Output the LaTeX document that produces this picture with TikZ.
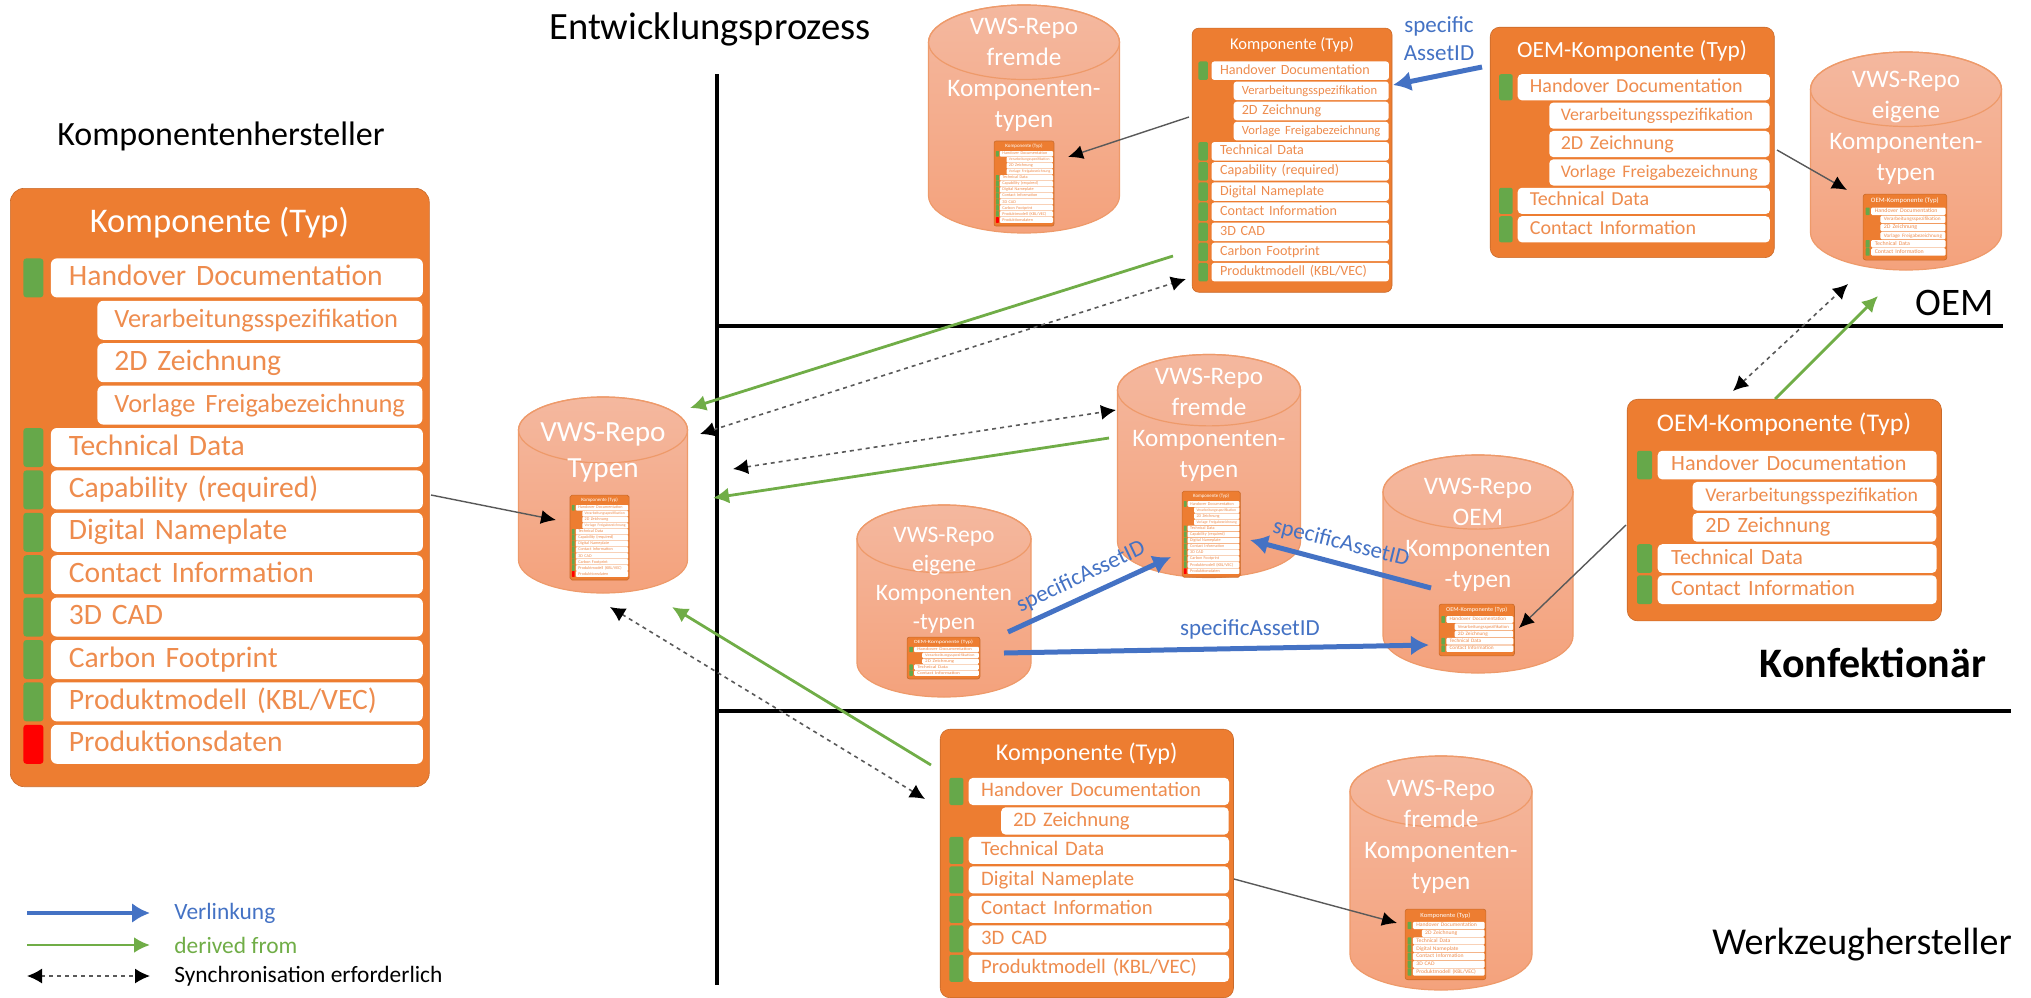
\documentclass[tikz,border=0pt]{standalone}
\usepackage{fontspec}
\setmainfont{Carlito}
\usetikzlibrary{arrows.meta}
\definecolor{comporange}{HTML}{ED7D31}
\definecolor{rowtext}{HTML}{EE8C4E}
\definecolor{repotop}{HTML}{F4B89F}
\definecolor{repobottom}{HTML}{F4A27C}
\definecolor{repoedge}{HTML}{EE9A6A}
\definecolor{bargreen}{HTML}{66A84A}
\definecolor{linkblue}{HTML}{4472C4}
\definecolor{derivegreen}{HTML}{70AD47}
\definecolor{syncgray}{HTML}{595959}
\tikzset{
  compbg/.style={rectangle,fill=comporange,draw=comporange!85!black,line width=.3pt,
    minimum width=209.5pt,anchor=north west,inner sep=0pt},
  comptitle/.style={text=white,font=\fontsize{17.3}{19}\selectfont,inner sep=0pt},
  comprow/.style={rectangle,fill=white,anchor=north west,inner ysep=0pt,minimum height=19.5pt,
    text=rowtext,align=left,text height=9.5pt,text depth=2pt,font=\fontsize{14.8}{16}\selectfont},
  rowmain/.style={comprow,inner xsep=9pt,text width=168pt},
  rowsub/.style={comprow,inner xsep=8.5pt,text width=145.5pt},
  compbar/.style={rectangle,anchor=north west,inner sep=0pt,minimum width=10pt,minimum height=19.5pt},
  bar m/.style={compbar,fill=bargreen},
  bar r/.style={compbar,fill=red},
  repo/.style={draw=repoedge,line width=.6pt,top color=repotop,bottom color=repobottom},
  repolid/.style={draw=repoedge,line width=.6pt},
  repotext/.style={text=white,align=center,inner sep=0pt},
  heading/.style={text=black,inner sep=0pt},
  divider/.style={line width=2pt,black},
  linkarrow/.style={line width=2.5pt,linkblue,-{Latex[length=9pt,width=10pt]}},
  derivearrow/.style={line width=1.4pt,derivegreen,-{Latex[length=8pt,width=8pt]}},
  syncarrow/.style={line width=.8pt,syncgray,dash pattern=on 2pt off 2pt,
    {Latex[black,length=7.5pt,width=7.5pt]}-{Latex[black,length=7.5pt,width=7.5pt]}},
  partarrow/.style={line width=.7pt,syncgray,-{Latex[black,length=7.5pt,width=7pt]}},
  linklabel/.style={text=linkblue,inner sep=0pt,font=\fontsize{11.5}{14}\selectfont,align=center},
  legendtext/.style={anchor=west,inner sep=0pt,font=\fontsize{11.7}{14}\selectfont}
}
\newcommand\subsmall{\fontsize{13.2}{15}\selectfont}
\newcommand\rowsmain{m/Handover Documentation,s/{\subsmall Verarbeitungsspezifikation},s/2D Zeichnung,
  s/{\subsmall Vorlage Freigabezeichnung},m/Technical Data,m/Capability (required),m/Digital Nameplate,
  m/Contact Information,m/3D CAD,m/Carbon Footprint,m/{Produktmodell (KBL/VEC)},r/Produktionsdaten}
\newcommand\rowsmid{m/Handover Documentation,s/{\subsmall Verarbeitungsspezifikation},s/2D Zeichnung,
  s/{\subsmall Vorlage Freigabezeichnung},m/Technical Data,m/Capability (required),m/Digital Nameplate,
  m/Contact Information,m/3D CAD,m/Carbon Footprint,m/{Produktmodell (KBL/VEC)}}
\newcommand\rowsoem{m/Handover Documentation,s/{\subsmall Verarbeitungsspezifikation},s/2D Zeichnung,
  s/{\subsmall Vorlage Freigabezeichnung},m/Technical Data,m/Contact Information}
\newcommand\rowsoemb{m/Handover Documentation,s/{\subsmall Verarbeitungsspezifikation},s/2D Zeichnung,
  m/Technical Data,m/Contact Information}
\newcommand\rowstool{m/Handover Documentation,s/2D Zeichnung,m/Technical Data,m/Digital Nameplate,
  m/Contact Information,m/3D CAD,m/{Produktmodell (KBL/VEC)}}
% name, x, y, xscale, yscale, number of rows, title, rows
\newcommand\compbox[8]{%
  \begin{scope}[shift={(#2,#3)},xscale=#4,yscale=#5,transform shape]
    \pgfmathsetmacro\boxh{(89.6+42.4*#6)*0.5}
    \pgfmathsetmacro\boxr{#4*7}
    \pgfmathsetmacro\rowr{#4*3}
    \pgfmathsetmacro\barr{#4*1.5}
    \node[compbg,rounded corners=\boxr pt,minimum height=\boxh pt] (#1) at (0,0) {};
    \node[comptitle] (#1title) at (209.5,35) {#7};
    \foreach \k/\rowtxt [count=\n] in #8 {
      \if\k s
        \node[rowsub,rounded corners=\rowr pt] (#1row\n) at (87,{70+42.4*(\n-1)}) {\rowtxt};
      \else
        \node[bar \k,rounded corners=\barr pt] (#1bar\n) at (13,{70+42.4*(\n-1)}) {};
        \node[rowmain,rounded corners=\rowr pt] (#1row\n) at (40.5,{70+42.4*(\n-1)}) {\rowtxt};
      \fi
    }
  \end{scope}
}
% name, centre x, centre y, width, height, text y, font size, line pitch, text
\newcommand\repocyl[9]{%
  \pgfmathsetmacro\rx{#4/2}
  \pgfmathsetmacro\ry{#4*0.195}
  \pgfmathsetmacro\xl{#2-\rx}
  \pgfmathsetmacro\yt{#3-#5/2+\ry}
  \pgfmathsetmacro\yb{#3+#5/2-\ry}
  \coordinate (#1) at (#2,#3);
  \shade[repo] (\xl,\yt) arc[start angle=180,end angle=360,x radius=\rx,y radius=\ry]
    -- ({\xl+#4},\yb) arc[start angle=0,end angle=180,x radius=\rx,y radius=\ry] -- cycle;
  \draw[repolid] (#2,\yt) ellipse[x radius=\rx,y radius=\ry];
  \node[repotext,font=\fontsize{#7}{#8}\selectfont] (#1text) at (#2,#6) {#9};
}
\begin{document}
\begin{tikzpicture}[x=0.5pt,y=-0.5pt]
  \useasboundingbox (0,0) rectangle (2031,997);

  \coordinate (vtop) at (717,74);
  \coordinate (vbottom) at (717,985);
  \coordinate (oemleft) at (717,326);
  \coordinate (oemright) at (2003,326);
  \coordinate (konfleft) at (717,711);
  \coordinate (konfright) at (2011,711);
  \draw[divider] (vtop) -- (vbottom);
  \draw[divider] (oemleft) -- (oemright);
  \draw[divider] (konfleft) -- (konfright);

  \node[heading,font=\fontsize{19.3}{24}\selectfont] (prozess) at (710,29) {Entwicklungsprozess};
  \node[heading,font=\fontsize{17}{20}\selectfont] (hersteller) at (221,136) {Komponentenhersteller};
  \node[heading,font=\fontsize{19.5}{22}\selectfont] (oem) at (1955,303) {OEM};
  \node[heading,font=\bfseries\fontsize{21}{24}\selectfont] (konf) at (1873,663) {Konfektionär};
  \node[heading,font=\fontsize{19}{22}\selectfont] (werkzeug) at (1862,945) {Werkzeughersteller};

  \compbox{main}{10}{188}{1}{1}{12}{Komponente (Typ)}{\rowsmain}
  \compbox{mid}{1192}{28}{.477}{.475}{11}{Komponente (Typ)}{\rowsmid}
  \compbox{oemtop}{1490}{27}{.678}{.67}{6}{OEM-Komponente (Typ)}{\rowsoem}
  \compbox{oemmid}{1627}{399}{.75}{.735}{5}{OEM-Komponente (Typ)}{\rowsoemb}
  \compbox{tool}{940}{729}{.70}{.695}{7}{Komponente (Typ)}{\rowstool}

  \repocyl{typen}{603}{495}{169}{196}{452}{14.6}{18}{VWS-Repo\\Typen}
  \compbox{typenmini}{570}{495}{.141}{.142}{12}{Komponente (Typ)}{\rowsmain}
  \repocyl{fremdetop}{1024}{119}{191}{228}{75}{12.6}{15.6}{VWS-Repo\\fremde\\Komponenten-\\typen}
  \compbox{fremdetopmini}{994}{141}{.143}{.142}{12}{Komponente (Typ)}{\rowsmain}
  \repocyl{eigenetop}{1906}{161}{191}{218}{128}{12.6}{15.6}{VWS-Repo\\eigene\\Komponenten-\\typen}
  \compbox{eigenetopmini}{1863}{194}{.2}{.192}{6}{OEM-Komponente (Typ)}{\rowsoem}
  \repocyl{fremdemid}{1209}{466}{183}{223}{425}{12.6}{15.6}{VWS-Repo\\fremde\\Komponenten-\\typen}
  \compbox{fremdemidmini}{1182}{491}{.139}{.144}{12}{Komponente (Typ)}{\rowsmain}
  \repocyl{eigenemid}{944}{601}{174}{192}{580}{11.8}{14.5}{VWS-Repo\\eigene\\Komponenten\\-typen}
  \compbox{eigenemidmini}{907}{637}{.174}{.139}{5}{OEM-Komponente (Typ)}{\rowsoemb}
  \repocyl{oemrepo}{1478}{564}{190}{218}{535}{12.6}{15.6}{VWS-Repo\\OEM\\Komponenten\\-typen}
  \compbox{oemrepomini}{1439}{604}{.18}{.172}{5}{OEM-Komponente (Typ)}{\rowsoemb}
  \repocyl{fremdelow}{1441}{873}{182}{234}{837}{12.6}{15.6}{VWS-Repo\\fremde\\Komponenten-\\typen}
  \compbox{fremdelowmini}{1405}{909}{.193}{.183}{7}{Komponente (Typ)}{\rowstool}

  \coordinate (mainout) at (431,495);
  \coordinate (typenin) at (556,520);
  \coordinate (midout) at (1189,117);
  \coordinate (fremdetopin) at (1068,157);
  \coordinate (oemtopout) at (1777,150);
  \coordinate (eigenetopin) at (1847,190);
  \coordinate (oemmidout) at (1626,525);
  \coordinate (oemrepoin) at (1519,628);
  \coordinate (toolout) at (1234,879);
  \coordinate (fremdelowin) at (1397,923);
  \draw[partarrow] (mainout) -- (typenin);
  \draw[partarrow] (midout) -- (fremdetopin);
  \draw[partarrow] (oemtopout) -- (eigenetopin);
  \draw[partarrow] (oemmidout) -- (oemrepoin);
  \draw[partarrow] (toolout) -- (fremdelowin);

  \coordinate (midderive) at (1173,256);
  \coordinate (typenderivea) at (690,408);
  \coordinate (fremdederive) at (1109,438);
  \coordinate (typenderiveb) at (713,498);
  \coordinate (toolderive) at (931,765);
  \coordinate (typenderivec) at (672,607);
  \coordinate (oemderive) at (1775,399);
  \coordinate (eigenederive) at (1878,296);
  \draw[derivearrow] (midderive) -- (typenderivea);
  \draw[derivearrow] (fremdederive) -- (typenderiveb);
  \draw[derivearrow] (toolderive) -- (typenderivec);
  \draw[derivearrow] (oemderive) -- (eigenederive);

  \coordinate (syncaa) at (700,434);
  \coordinate (syncab) at (1186,279);
  \coordinate (syncba) at (733,469);
  \coordinate (syncbb) at (1116,410);
  \coordinate (syncca) at (610,607);
  \coordinate (synccb) at (925,799);
  \coordinate (syncda) at (1733,391);
  \coordinate (syncdb) at (1848,284);
  \draw[syncarrow] (syncaa) -- (syncab);
  \draw[syncarrow] (syncba) -- (syncbb);
  \draw[syncarrow] (syncca) -- (synccb);
  \draw[syncarrow] (syncda) -- (syncdb);

  \coordinate (oemtoplink) at (1482,67);
  \coordinate (midlink) at (1393,85);
  \coordinate (eigeneup) at (1008,632);
  \coordinate (fremdeleft) at (1171,557);
  \coordinate (oemrepoup) at (1431,588);
  \coordinate (fremderight) at (1250,540);
  \coordinate (eigeneright) at (1004,653);
  \coordinate (oemrepoleft) at (1429,645);
  \draw[linkarrow] (oemtoplink) -- (midlink);
  \draw[linkarrow] (eigeneup) -- (fremdeleft);
  \draw[linkarrow] (oemrepoup) -- (fremderight);
  \draw[linkarrow] (eigeneright) -- (oemrepoleft);
  \node[linklabel] (labeltop) at (1439,39) {specific\\AssetID};
  \node[linklabel,rotate=25.5] (labeleigene) at (1081,577) {specificAssetID};
  \node[linklabel,rotate=-14] (labeloem) at (1341,543) {specificAssetID};
  \node[linklabel] (labellow) at (1250,629) {specificAssetID};

  \coordinate (legbluea) at (27,913);
  \coordinate (legblueb) at (150,913);
  \coordinate (leggreena) at (27,945);
  \coordinate (leggreenb) at (150,945);
  \coordinate (legsynca) at (27,976);
  \coordinate (legsyncb) at (150,976);
  \draw[linkarrow,line width=2pt] (legbluea) -- (legblueb);
  \draw[derivearrow] (leggreena) -- (leggreenb);
  \draw[syncarrow] (legsynca) -- (legsyncb);
  \node[legendtext,text=linkblue] (legblue) at (174,913) {Verlinkung};
  \node[legendtext,text=derivegreen] (leggreen) at (174,945) {derived from};
  \node[legendtext,text=black] (legsync) at (174,976) {Synchronisation erforderlich};
\end{tikzpicture}
\end{document}
